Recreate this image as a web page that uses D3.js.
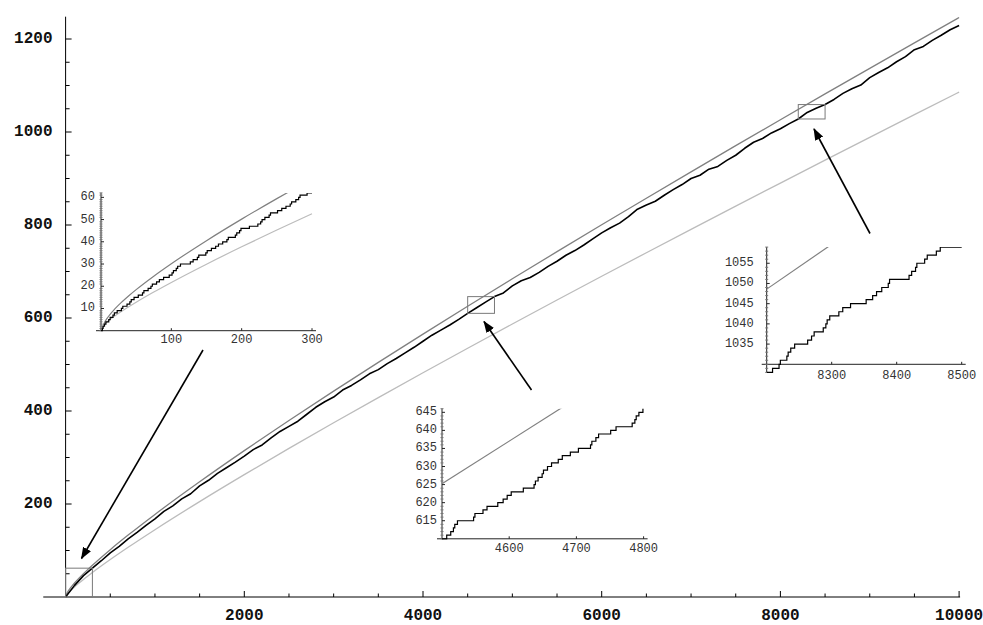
<!DOCTYPE html>
<html>
<head>
<meta charset="utf-8">
<script src="https://cdn.jsdelivr.net/npm/d3@7"></script>
<style>
  body { margin: 0; background: #fff; }
  svg { display: block; }
</style>
</head>
<body>
<script>
// Prime counting function pi(x), sampled every 100 from 0 to 10000
const piSampleStep = 100;
const piCounts = [
  0, 25, 46, 62, 78, 95, 109, 125, 139, 154,
  168, 184, 196, 211, 222, 239, 251, 266, 278, 290,
  303, 317, 327, 342, 356, 367, 378, 393, 408, 420,
  430, 445, 455, 467, 480, 489, 502, 513, 525, 537,
  550, 563, 574, 585, 597, 610, 622, 634, 646, 654,
  669, 680, 687, 698, 711, 722, 735, 745, 757, 770,
  783, 794, 804, 818, 834, 843, 851, 864, 876, 887,
  900, 907, 920, 926, 939, 950, 965, 978, 986, 998,
  1007, 1018, 1028, 1042, 1051, 1059, 1070, 1083, 1093, 1101,
  1117, 1128, 1138, 1151, 1162, 1177, 1184, 1197, 1208, 1220,
  1229
];

// Sample points for the smooth comparison curves
const curveX = [2, 3, 5, 7, 10, 20, 30, 40, 50, 75, 100, 150, 200, 250, 300, 500, 700,
  1000, 1500, 2000, 2500, 3000, 3500, 4000, 4500, 5000, 5500, 6000, 6500, 7000,
  7500, 8000, 8500, 9000, 9500, 10000];
// logarithmic integral li(x)
const liValues = [1.045, 2.164, 3.635, 4.757, 6.166, 9.905, 13.022, 15.839, 18.469, 24.529,
  30.126, 40.505, 50.196, 59.433, 68.338, 101.80, 133.09,
  177.61, 247.81, 314.81, 379.61, 442.76, 504.60, 565.37, 625.22, 684.28, 742.66,
  800.42, 857.62, 914.33, 970.58, 1026.42, 1081.86, 1136.95, 1191.70, 1246.14];
// x / log(x)
const xOverLogValues = [2.885, 2.731, 3.107, 3.597, 4.343, 6.676, 8.820, 10.843, 12.781, 17.371,
  21.715, 29.936, 37.748, 45.278, 52.597, 80.455, 106.853,
  144.765, 205.107, 263.126, 319.528, 374.703, 428.897, 482.272, 534.960, 587.050, 638.605,
  689.694, 740.357, 790.629, 840.555, 890.160, 939.454, 988.470, 1037.220, 1085.736];

// Primes inside each magnified window, with the count at the window start
const primesWindowA = [2, 3, 5, 7, 11, 13, 17, 19, 23, 29, 31, 37, 41, 43, 47, 53, 59, 61, 67, 71,
  73, 79, 83, 89, 97, 101, 103, 107, 109, 113, 127, 131, 137, 139, 149, 151, 157, 163, 167, 173,
  179, 181, 191, 193, 197, 199, 211, 223, 227, 229, 233, 239, 241, 251, 257, 263, 269, 271, 277, 281,
  283, 293];
const startCountA = 0;
const primesWindowB = [4507, 4513, 4517, 4519, 4523, 4547, 4549, 4561, 4567, 4583, 4591, 4597, 4603,
  4621, 4637, 4639, 4643, 4649, 4651, 4657, 4663, 4673, 4679, 4691, 4703, 4721, 4723, 4729, 4733,
  4751, 4759, 4783, 4787, 4789, 4793, 4799];
const startCountB = 610;
const primesWindowC = [8209, 8219, 8221, 8231, 8233, 8237, 8243, 8263, 8269, 8273, 8287, 8291, 8293,
  8297, 8311, 8317, 8329, 8353, 8363, 8369, 8377, 8387, 8389, 8419, 8423, 8429, 8431, 8443, 8447,
  8461, 8467];
const startCountC = 1028;

// Tick values
const mainXTicks = [2000, 4000, 6000, 8000, 10000];
const mainYTicks = [200, 400, 600, 800, 1000, 1200];
const insetATicksX = [100, 200, 300], insetATicksY = [10, 20, 30, 40, 50, 60];
const insetBTicksX = [4600, 4700, 4800], insetBTicksY = [615, 620, 625, 630, 635, 640, 645];
const insetCTicksX = [8300, 8400, 8500], insetCTicksY = [1035, 1040, 1045, 1050, 1055];

const W = 983, H = 625;
const COL_PI = "#000", COL_LI = "#808080", COL_XL = "#bcbcbc", COL_BOX = "#7a7a7a";
const MAIN_FONT = "bold 16px 'Liberation Mono', 'DejaVu Sans Mono', monospace";
const INSET_FONT = "12px 'Liberation Mono', 'DejaVu Sans Mono', monospace";

const svg = d3.select("body").append("svg").attr("width", W).attr("height", H);
const defs = svg.append("defs");
defs.append("marker").attr("id", "head")
  .attr("markerUnits", "userSpaceOnUse")
  .attr("viewBox", "0 -5 12 10").attr("refX", 11).attr("refY", 0)
  .attr("markerWidth", 12).attr("markerHeight", 10).attr("orient", "auto")
  .append("path").attr("d", "M0,-4.5L12,0L0,4.5Z").attr("fill", "#000");

const piPoints = piCounts.map((c, i) => [i * piSampleStep, c]);
const liPoints = curveX.map((x, i) => [x, liValues[i]]);
const xlPoints = curveX.map((x, i) => [x, xOverLogValues[i]]);

// ---------- main plot ----------
const x = d3.scaleLinear().domain([0, 10000]).range([65.6, 959.1]);
const y = d3.scaleLinear().domain([0, 1200]).range([597, 39]);

const main = svg.append("g");
const smooth = (sx, sy) => d3.line().x(d => sx(d[0])).y(d => sy(d[1])).curve(d3.curveMonotoneX);
const lin = (sx, sy) => d3.line().x(d => sx(d[0])).y(d => sy(d[1]));

// axes
main.append("line").attr("x1", x(-250)).attr("x2", x(10000) + 1)
  .attr("y1", y(0)).attr("y2", y(0)).attr("stroke", "#000").attr("stroke-width", 1);
main.append("line").attr("x1", x(0)).attr("x2", x(0))
  .attr("y1", y(0)).attr("y2", y(1248)).attr("stroke", "#000").attr("stroke-width", 1);

d3.range(500, 10001, 500).forEach(v => {
  const major = mainXTicks.includes(v);
  main.append("line").attr("x1", x(v)).attr("x2", x(v))
    .attr("y1", y(0)).attr("y2", y(0) - (major ? 6 : 3.5)).attr("stroke", "#000");
});
d3.range(50, 1201, 50).forEach(v => {
  const major = mainYTicks.includes(v);
  main.append("line").attr("x1", x(0)).attr("x2", x(0) + (major ? 6 : 4))
    .attr("y1", y(v)).attr("y2", y(v)).attr("stroke", "#000");
});
main.selectAll("text.xl").data(mainXTicks).join("text")
  .attr("x", d => x(d)).attr("y", 620).attr("text-anchor", "middle")
  .style("font", MAIN_FONT).attr("fill", "#111")
  .text(d => d);
main.selectAll("text.yl").data(mainYTicks).join("text")
  .attr("x", 52.5).attr("y", d => y(d)).attr("text-anchor", "end")
  .attr("dominant-baseline", "central")
  .style("font", MAIN_FONT).attr("fill", "#111")
  .text(d => d);

// curves
main.append("path").datum(xlPoints).attr("d", smooth(x, y))
  .attr("fill", "none").attr("stroke", COL_XL).attr("stroke-width", 1.3);
main.append("path").datum(liPoints).attr("d", smooth(x, y))
  .attr("fill", "none").attr("stroke", COL_LI).attr("stroke-width", 1.3);
main.append("path").datum(piPoints).attr("d", lin(x, y))
  .attr("fill", "none").attr("stroke", COL_PI).attr("stroke-width", 1.6)
  .attr("stroke-linejoin", "round");

// ---------- magnified windows ----------
const insets = [
  { id: "A", xd: [0, 300], xr: [101, 312], yd: [0, 62], yr: [330.7, 192.9], yAxisAt: 0, yLow: 0,
    primes: primesWindowA, start: startCountA, tx: insetATicksX, ty: insetATicksY,
    showXOverLog: true, labelGap: 6, xLabelDy: 9.5 },
  { id: "B", xd: [4500, 4800], xr: [442, 643.6], yd: [610, 646], yr: [538.8, 408.7], yAxisAt: 610, yLow: 610,
    primes: primesWindowB, start: startCountB, tx: insetBTicksX, ty: insetBTicksY,
    showXOverLog: false, labelGap: 5, xLabelDy: 10 },
  { id: "C", xd: [8200, 8500], xr: [766.7, 961.7], yd: [1030, 1059], yr: [364.3, 247.1], yAxisAt: 1030, yLow: 1028,
    primes: primesWindowC, start: startCountC, tx: insetCTicksX, ty: insetCTicksY,
    showXOverLog: false, labelGap: 13, xLabelDy: 11.5 }
];

insets.forEach(cfg => {
  const sx = d3.scaleLinear().domain(cfg.xd).range(cfg.xr);
  const sy = d3.scaleLinear().domain(cfg.yd).range(cfg.yr);
  const g = svg.append("g");

  // window box in the main plot
  main.append("rect")
    .attr("x", x(cfg.xd[0])).attr("y", y(cfg.yd[1]))
    .attr("width", x(cfg.xd[1]) - x(cfg.xd[0])).attr("height", y(cfg.yLow) - y(cfg.yd[1]))
    .attr("fill", "none").attr("stroke", COL_BOX).attr("stroke-width", 1);

  defs.append("clipPath").attr("id", "clip" + cfg.id).append("rect")
    .attr("x", sx(cfg.xd[0])).attr("y", sy(cfg.yd[1]))
    .attr("width", sx(cfg.xd[1]) - sx(cfg.xd[0]) + 1)
    .attr("height", sy(cfg.yLow) - sy(cfg.yd[1]) + 1);

  // axes
  const axisCol = "#222";
  g.append("line").attr("x1", sx(cfg.xd[0]) - 5).attr("x2", sx(cfg.xd[1]) + 4)
    .attr("y1", sy(cfg.yAxisAt)).attr("y2", sy(cfg.yAxisAt)).attr("stroke", axisCol);
  g.append("line").attr("x1", sx(cfg.xd[0])).attr("x2", sx(cfg.xd[0]))
    .attr("y1", sy(cfg.yLow)).attr("y2", sy(cfg.yd[1])).attr("stroke", axisCol);
  d3.range(Math.ceil(cfg.yLow), cfg.yd[1] + 0.001, 1).forEach(v => {
    const major = cfg.ty.includes(v);
    g.append("line").attr("x1", sx(cfg.xd[0]) - (major ? 0 : 1.5)).attr("x2", sx(cfg.xd[0]) + (major ? 3 : 1.5))
      .attr("y1", sy(v)).attr("y2", sy(v)).attr("stroke", major ? "#222" : "#777").attr("stroke-width", 1);
  });
  cfg.tx.forEach(v => {
    g.append("line").attr("x1", sx(v)).attr("x2", sx(v))
      .attr("y1", sy(cfg.yAxisAt)).attr("y2", sy(cfg.yAxisAt) - 2.5).attr("stroke", axisCol);
  });
  g.selectAll("text.tx").data(cfg.tx).join("text")
    .attr("x", d => sx(d)).attr("y", sy(cfg.yAxisAt) + cfg.xLabelDy)
    .attr("text-anchor", "middle").attr("dominant-baseline", "central")
    .style("font", INSET_FONT).attr("fill", "#333")
    .text(d => d);
  g.selectAll("text.ty").data(cfg.ty).join("text")
    .attr("x", sx(cfg.xd[0]) - cfg.labelGap).attr("y", d => sy(d))
    .attr("text-anchor", "end").attr("dominant-baseline", "central")
    .style("font", INSET_FONT).attr("fill", "#333")
    .text(d => d);

  const plot = g.append("g").attr("clip-path", "url(#clip" + cfg.id + ")");
  const inRange = pts => pts.filter((p, i) =>
    (p[0] >= cfg.xd[0] || (pts[i + 1] && pts[i + 1][0] > cfg.xd[0])) &&
    (p[0] <= cfg.xd[1] || (pts[i - 1] && pts[i - 1][0] < cfg.xd[1])));

  if (cfg.showXOverLog) {
    plot.append("path").datum(inRange(xlPoints)).attr("d", smooth(sx, sy))
      .attr("fill", "none").attr("stroke", COL_XL).attr("stroke-width", 1.2);
  }
  plot.append("path").datum(inRange(liPoints)).attr("d", smooth(sx, sy))
    .attr("fill", "none").attr("stroke", COL_LI).attr("stroke-width", 1.2);

  // pi(x) as a staircase: one unit step at each prime
  const steps = [[cfg.xd[0], cfg.start]];
  cfg.primes.forEach((p, i) => steps.push([p, cfg.start + i + 1]));
  steps.push([cfg.xd[1], cfg.start + cfg.primes.length]);
  plot.append("path").datum(steps)
    .attr("d", d3.line().x(d => sx(d[0])).y(d => sy(d[1])).curve(d3.curveStepAfter))
    .attr("fill", "none").attr("stroke", COL_PI).attr("stroke-width", 1.2);
});

// ---------- arrows from each window to its box ----------
const arrows = [
  { from: [203, 350], to: [81.5, 558.5] },
  { from: [531.5, 390], to: [484, 321.5] },
  { from: [870, 233.5], to: [814, 129] }
];
arrows.forEach(a => {
  svg.append("line").attr("x1", a.from[0]).attr("y1", a.from[1])
    .attr("x2", a.to[0]).attr("y2", a.to[1])
    .attr("stroke", "#000").attr("stroke-width", 1.6).attr("marker-end", "url(#head)");
});
</script>
</body>
</html>
